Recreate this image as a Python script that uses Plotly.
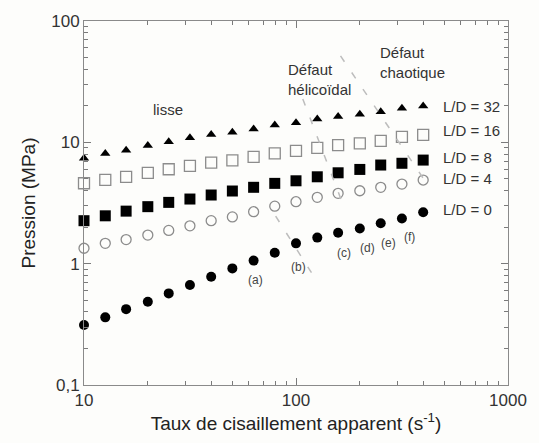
import plotly.graph_objects as go

# Apparent shear rate (s^-1)
shear_rate = [10, 12.6, 15.8, 20, 25.1, 31.6, 39.8, 50.1, 63.1, 79.4,
              100, 126, 158, 200, 251, 316, 398]

# Pressure (MPa) for each die length / diameter ratio
p_ld32 = [7.4, 8.1, 8.6, 9.4, 10.1, 10.9, 11.6, 12.1, 12.9, 13.9,
          14.5, 15.6, 16.3, 17.0, 17.9, 19.1, 19.9]
p_ld16 = [4.6, 4.9, 5.2, 5.6, 6.0, 6.4, 6.8, 7.1, 7.6, 8.1,
          8.5, 9.0, 9.5, 9.8, 10.3, 11.1, 11.5]
p_ld8 = [2.26, 2.48, 2.71, 2.95, 3.2, 3.41, 3.68, 3.97, 4.26, 4.59,
         4.82, 5.2, 5.61, 5.98, 6.5, 6.72, 7.14]
p_ld4 = [1.34, 1.47, 1.58, 1.72, 1.88, 2.05, 2.26, 2.43, 2.68, 2.98,
         3.24, 3.52, 3.8, 3.99, 4.26, 4.53, 4.89]
p_ld0 = [0.312, 0.361, 0.422, 0.485, 0.569, 0.667, 0.78, 0.914, 1.06, 1.23,
         1.47, 1.64, 1.8, 1.95, 2.15, 2.36, 2.65]

y_tickvals = [0.1, 1, 10, 100]
y_ticktext = ["0,1", "1", "10", "100"]
x_tickvals = [10, 100, 1000]
x_ticktext = ["10", "100", "1000"]
y_minor = [0.2, 0.3, 0.4, 0.5, 0.6, 0.7, 0.8, 0.9,
           2, 3, 4, 5, 6, 7, 8, 9,
           20, 30, 40, 50, 60, 70, 80, 90]
x_minor = [20, 30, 40, 50, 60, 70, 80, 90,
           200, 300, 400, 500, 600, 700, 800, 900]

series_labels = ["L/D = 32", "L/D = 16", "L/D = 8", "L/D = 4", "L/D = 0"]
zone_labels = ["lisse", "Défaut<br>hélicoïdal", "Défaut<br>chaotique"]
point_labels = ["(a)", "(b)", "(c)", "(d)", "(e)", "(f)"]

FONT = "Liberation Sans, Arial, sans-serif"
AXIS = "#8a8a8a"
TICK = "#7a7a7a"
GREY = "#8c8c8c"

fig = go.Figure()

styles = [
    (p_ld32, dict(symbol="triangle-up", size=9, color="black")),
    (p_ld16, dict(symbol="square-open", size=11, color=GREY, line=dict(width=1.3))),
    (p_ld8, dict(symbol="square", size=11, color="black")),
    (p_ld4, dict(symbol="circle-open", size=10, color=GREY, line=dict(width=1.3))),
    (p_ld0, dict(symbol="circle", size=10, color="black")),
]
for values, marker in styles:
    fig.add_trace(go.Scatter(x=shear_rate, y=values, mode="markers",
                             marker=marker, showlegend=False,
                             cliponaxis=False))

# Dashed boundaries between flow regimes
boundaries = [
    (0.516, 0.786, 0.616, 0.480),
    (0.605, 0.904, 0.814, 0.544),
    (0.452, 0.464, 0.540, 0.302),
]
for x0, y0, x1, y1 in boundaries:
    fig.add_shape(type="line", xref="paper", yref="paper",
                  x0=x0, y0=y0, x1=x1, y1=y1,
                  line=dict(color="#bdbdbd", width=1.5, dash="7px,13px"))

# Series labels on the right
label_y = [0.764, 0.698, 0.626, 0.566, 0.481]
for text, y in zip(series_labels, label_y):
    fig.add_annotation(text=text, xref="paper", yref="paper", x=0.842, y=y,
                       xanchor="left", yanchor="middle", showarrow=False,
                       font=dict(family=FONT, size=15, color="#333333"))

# Flow regime names
zone_pos = [(0.197, 0.758, "center"), (0.476, 0.838, "left"), (0.694, 0.887, "left")]
for text, (x, y, anchor) in zip(zone_labels, zone_pos):
    fig.add_annotation(text=text, xref="paper", yref="paper", x=x, y=y,
                       xanchor=anchor, yanchor="middle", align="left",
                       showarrow=False,
                       font=dict(family=FONT, size=15, color="#333333"))

# Sample markers (a)-(f)
point_pos = [(0.404, 0.288), (0.506, 0.324), (0.613, 0.363),
             (0.668, 0.376), (0.717, 0.390), (0.768, 0.407)]
for text, (x, y) in zip(point_labels, point_pos):
    fig.add_annotation(text=text, xref="paper", yref="paper", x=x, y=y,
                       xanchor="center", yanchor="middle", showarrow=False,
                       font=dict(family=FONT, size=12, color="#444444"))

axis_common = dict(
    type="log", showgrid=False, zeroline=False,
    showline=True, linecolor=AXIS, linewidth=1, mirror="allticks",
    ticks="inside", ticklen=7, tickcolor=TICK, tickwidth=1,
    tickfont=dict(family=FONT, size=17, color="#333333"),
)

fig.update_xaxes(**axis_common, range=[1, 3], tickmode="array",
                 tickvals=x_tickvals, ticktext=x_ticktext,
                 minor=dict(tickmode="array", tickvals=x_minor, ticks="inside",
                            ticklen=4, tickcolor=TICK, tickwidth=1,
                            showgrid=False),
                 title=dict(text="Taux de cisaillement apparent (s<sup>-1</sup>)",
                            font=dict(family=FONT, size=19, color="#222222"),
                            standoff=4))
fig.update_yaxes(**axis_common, range=[-1, 2], tickmode="array",
                 tickvals=y_tickvals, ticktext=y_ticktext,
                 minor=dict(tickmode="array", tickvals=y_minor, ticks="inside",
                            ticklen=4, tickcolor=TICK, tickwidth=1,
                            showgrid=False),
                 title=dict(text="Pression (MPa)",
                            font=dict(family=FONT, size=19, color="#222222"),
                            standoff=10))

fig.update_layout(
    width=539, height=443,
    margin=dict(l=84, r=24, t=21, b=58),
    paper_bgcolor="#fdfdfb", plot_bgcolor="#fdfdfb",
)

fig.write_html("out.html")
